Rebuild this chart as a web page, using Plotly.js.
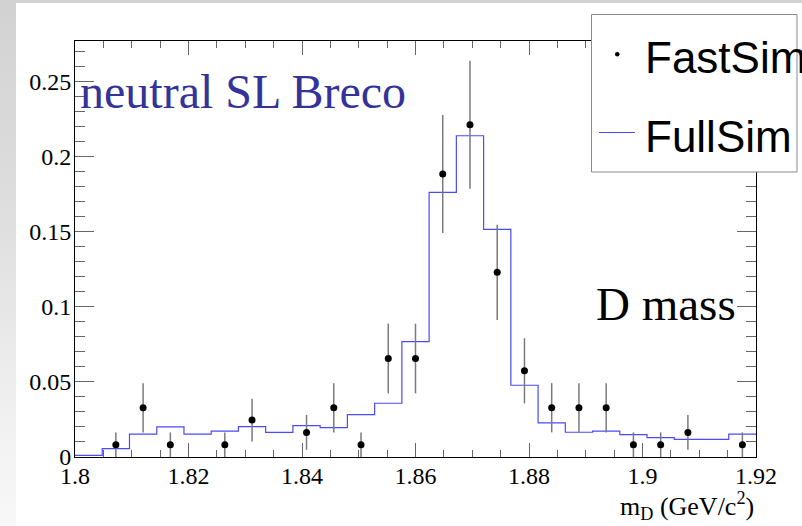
<!DOCTYPE html>
<html>
<head>
<meta charset="utf-8">
<script src="https://cdn.plot.ly/plotly-3.0.1.min.js"></script>
<style>
  html, body { margin: 0; padding: 0; }
  #wrap { position: relative; width: 802px; height: 526px; overflow: hidden;
          background: linear-gradient(to bottom, #d2d2d2 0%, #dedede 40%, #f0f0f0 78%, #f8f8f8 100%); }
  #panel { position: absolute; left: 16px; top: 3px; right: 0; bottom: 0; background: #ffffff; }
  #chart { position: absolute; left: 0; top: 0; width: 802px; height: 526px; }
</style>
</head>
<body>
<div id="wrap"><div id="panel"></div><div id="chart"></div></div>
<script>
// ---- data ----
const binEdges = [1.8, 1.8048, 1.8096, 1.8144, 1.8192, 1.824, 1.8288, 1.8336, 1.8384, 1.8432,
                  1.848, 1.8528, 1.8576, 1.8624, 1.8672, 1.872, 1.8768, 1.8816, 1.8864, 1.8912,
                  1.896, 1.9008, 1.9056, 1.9104, 1.9152, 1.92];
const binCenters = [1.8024, 1.8072, 1.812, 1.8168, 1.8216, 1.8264, 1.8312, 1.836, 1.8408, 1.8456,
                    1.8504, 1.8552, 1.86, 1.8648, 1.8696, 1.8744, 1.8792, 1.884, 1.8888, 1.8936,
                    1.8984, 1.9032, 1.908, 1.9128, 1.9176];
const fullSim = [0.0011, 0.0056, 0.0153, 0.0200, 0.0153, 0.0173, 0.0202, 0.0164, 0.0209, 0.0196,
                 0.0282, 0.0358, 0.0769, 0.1763, 0.2140, 0.1516, 0.0478, 0.0227, 0.0165, 0.0173,
                 0.0149, 0.0129, 0.0118, 0.0118, 0.0153];
const fastSim = [0, 0.0082, 0.0328, 0.0082, 0, 0.0082, 0.0246, 0, 0.0164, 0.0328,
                 0.0082, 0.0656, 0.0656, 0.1885, 0.2213, 0.1230, 0.0574, 0.0328, 0.0328, 0.0328,
                 0.0082, 0.0082, 0.0164, 0, 0.0082];
const fastErr = [0, 0.0082, 0.0164, 0.0082, 0, 0.0082, 0.0142, 0, 0.0116, 0.0164,
                 0.0082, 0.0232, 0.0232, 0.0393, 0.0426, 0.0317, 0.0217, 0.0164, 0.0164, 0.0164,
                 0.0082, 0.0082, 0.0116, 0, 0.0082];
const xTitle = 'm<sub>D</sub>&nbsp;(GeV/c<sup>2</sup>)';
const labelTitle = 'neutral SL Breco';
const labelMass = 'D mass';
const legendNames = ['FastSim', 'FullSim'];

// ---- geometry helpers (pixel -> paper) ----
const L = 75, R = 756, T = 41, B = 457;
const px = v => (v - L) / (R - L);
const py = v => (B - v) / (B - T);

// histogram step line
const histX = binEdges.slice();
const histY = fullSim.concat([fullSim[fullSim.length - 1]]);

const ptsX = [], ptsY = [], ptsE = [];
fastSim.forEach((v, i) => { if (v > 0) { ptsX.push(binCenters[i]); ptsY.push(v); ptsE.push(fastErr[i]); } });

const traces = [
  { type: 'scatter', mode: 'lines', x: histX, y: histY, name: legendNames[1],
    line: { shape: 'hv', color: '#4a4aff', width: 1.2 }, showlegend: false, hoverinfo: 'skip' },
  { type: 'scatter', mode: 'markers', x: ptsX, y: ptsY, name: legendNames[0],
    marker: { color: '#000', size: 7 },
    error_y: { type: 'data', array: ptsE, visible: true, color: '#7a7a7a', thickness: 1.5, width: 0 },
    showlegend: false, hoverinfo: 'skip' }
];

const serif = 'Liberation Serif, Times New Roman, serif';
const sans = 'Liberation Sans, Arial, sans-serif';

const layout = {
  width: 802, height: 526,
  margin: { l: L, r: 802 - R, t: T, b: 526 - B, pad: 0 },
  paper_bgcolor: 'rgba(0,0,0,0)',
  plot_bgcolor: '#ffffff',
  showlegend: false,
  xaxis: {
    range: [1.8, 1.92], tick0: 1.8, dtick: 0.02, ticks: 'inside', ticklen: 14, tickwidth: 1,
    tickcolor: '#666', showline: true, linecolor: '#000', linewidth: 1, mirror: 'ticks',
    showgrid: false, zeroline: false, ticklabelstandoff: -3,
    tickfont: { family: serif, size: 24, color: '#000' },
    minor: { dtick: 0.005, ticks: 'inside', ticklen: 7, tickcolor: '#666', tickwidth: 1, showgrid: false }
  },
  yaxis: {
    range: [0, 0.2771], tick0: 0, dtick: 0.05, ticks: 'inside', ticklen: 19, tickwidth: 1,
    tickcolor: '#666', showline: true, linecolor: '#000', linewidth: 1, mirror: 'ticks',
    showgrid: false, zeroline: false, ticklabelstandoff: -2,
    tickfont: { family: serif, size: 24, color: '#000' },
    minor: { dtick: 0.01, ticks: 'inside', ticklen: 10, tickcolor: '#666', tickwidth: 1, showgrid: false }
  },
  shapes: [
    { type: 'rect', xref: 'paper', yref: 'paper', layer: 'above',
      x0: px(591.5), x1: px(797), y0: py(172), y1: py(14.5),
      fillcolor: '#ffffff', line: { color: '#8a8a8a', width: 1 } },
    { type: 'circle', xref: 'paper', yref: 'paper', layer: 'above',
      x0: px(615), x1: px(619.5), y0: py(56.5), y1: py(52),
      fillcolor: '#000', line: { color: '#000', width: 0 } },
    { type: 'line', xref: 'paper', yref: 'paper', layer: 'above',
      x0: px(599), x1: px(635), y0: py(132.5), y1: py(132.5),
      line: { color: '#4a4aff', width: 1.2 } }
  ],
  annotations: [
    { text: labelTitle, xref: 'paper', yref: 'paper', x: px(78), y: py(109 + 11), xanchor: 'left', yanchor: 'bottom',
      showarrow: false, font: { family: serif, size: 48, color: '#333399' } },
    { text: labelMass, xref: 'paper', yref: 'paper', x: px(594), y: py(321 + 11), xanchor: 'left', yanchor: 'bottom',
      showarrow: false, font: { family: serif, size: 47, color: '#000' } },
    { text: xTitle, xref: 'paper', yref: 'paper', x: px(756), y: py(526), xanchor: 'right', yanchor: 'bottom',
      showarrow: false, font: { family: serif, size: 26, color: '#000' } },
    { text: legendNames[0], xref: 'paper', yref: 'paper', x: px(643), y: py(74 + 10), xanchor: 'left', yanchor: 'bottom',
      showarrow: false, font: { family: sans, size: 44, color: '#000' } },
    { text: legendNames[1], xref: 'paper', yref: 'paper', x: px(643), y: py(153 + 10), xanchor: 'left', yanchor: 'bottom',
      showarrow: false, font: { family: sans, size: 44, color: '#000' } }
  ]
};

Plotly.newPlot('chart', traces, layout, { staticPlot: true, displayModeBar: false });
</script>
</body>
</html>
